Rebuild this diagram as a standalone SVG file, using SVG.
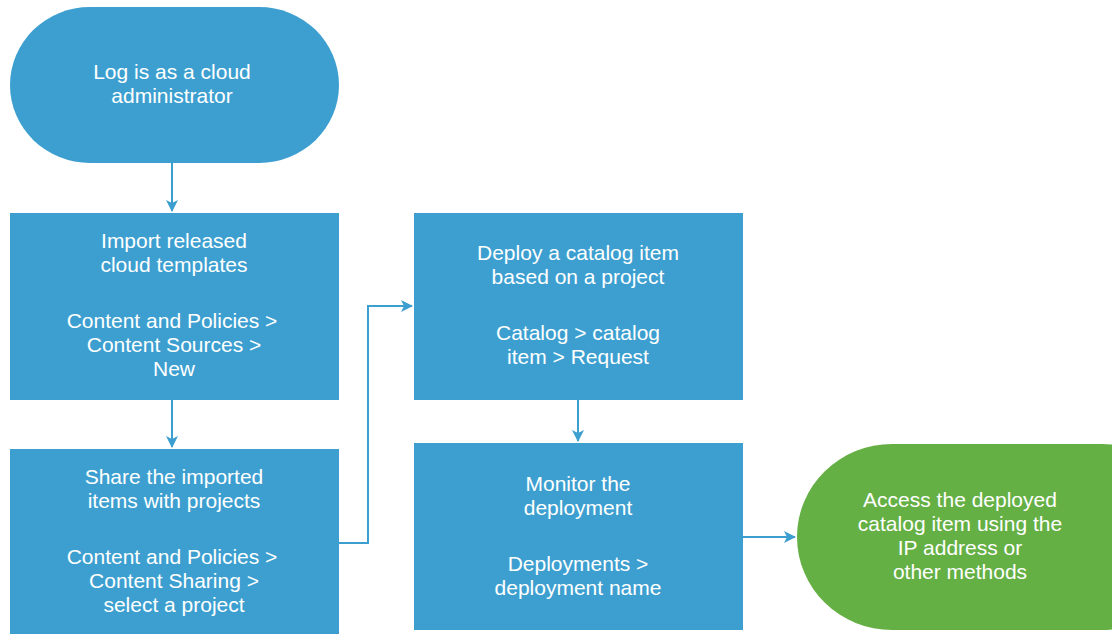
<svg xmlns="http://www.w3.org/2000/svg" width="1112" height="634" viewBox="0 0 1112 634">
<defs>
<style>
.n{fill:#3D9FD0}
.g{fill:#65B045}
.t{fill:#fff;font-family:"Liberation Sans",Arial,sans-serif;font-size:21px;text-anchor:middle}
.c{fill:none;stroke:#3D9FD0;stroke-width:2}
</style>
<marker id="ah" markerWidth="12" markerHeight="12" viewBox="0 0 12 12" refX="11" refY="6" orient="auto" markerUnits="userSpaceOnUse">
<path d="M0,0 L12,6 L0,12 L3,6 Z" fill="#3D9FD0"/>
</marker>
</defs>
<g id="connectors">
<path class="c" d="M172,163 V211" marker-end="url(#ah)"/>
<path class="c" d="M172,400 V447" marker-end="url(#ah)"/>
<path class="c" d="M339,543 H368 V306 H412" marker-end="url(#ah)"/>
<path class="c" d="M578,400 V441" marker-end="url(#ah)"/>
<path class="c" d="M743,537 H795" marker-end="url(#ah)"/>
</g>
<g id="start">
<rect class="n" x="10" y="7" width="329" height="156" rx="80" ry="78"/>
<text class="t" x="172" y="79">Log is as a cloud</text>
<text class="t" x="172" y="103">administrator</text>
</g>
<g id="import">
<rect class="n" x="10" y="213" width="329" height="187"/>
<text class="t" x="174" y="248">Import released</text>
<text class="t" x="174" y="272">cloud templates</text>
<text class="t" x="172" y="328">Content and Policies &gt;</text>
<text class="t" x="174" y="352">Content Sources &gt;</text>
<text class="t" x="174" y="376">New</text>
</g>
<g id="share">
<rect class="n" x="10" y="449" width="329" height="185"/>
<text class="t" x="174" y="484">Share the imported</text>
<text class="t" x="174" y="508">items with projects</text>
<text class="t" x="172" y="564">Content and Policies &gt;</text>
<text class="t" x="174" y="588">Content Sharing &gt;</text>
<text class="t" x="174" y="612">select a project</text>
</g>
<g id="deploy">
<rect class="n" x="414" y="213" width="329" height="187"/>
<text class="t" x="578" y="260">Deploy a catalog item</text>
<text class="t" x="578" y="284">based on a project</text>
<text class="t" x="578" y="340">Catalog &gt; catalog</text>
<text class="t" x="578" y="364">item &gt; Request</text>
</g>
<g id="monitor">
<rect class="n" x="414" y="443" width="329" height="187"/>
<text class="t" x="578" y="491">Monitor the</text>
<text class="t" x="578" y="515">deployment</text>
<text class="t" x="578" y="571">Deployments &gt;</text>
<text class="t" x="578" y="595">deployment name</text>
</g>
<g id="access">
<rect class="g" x="797" y="444" width="400" height="186" rx="95" ry="93"/>
<text class="t" x="960" y="507">Access the deployed</text>
<text class="t" x="960" y="531">catalog item using the</text>
<text class="t" x="960" y="555">IP address or</text>
<text class="t" x="960" y="579">other methods</text>
</g>
</svg>
